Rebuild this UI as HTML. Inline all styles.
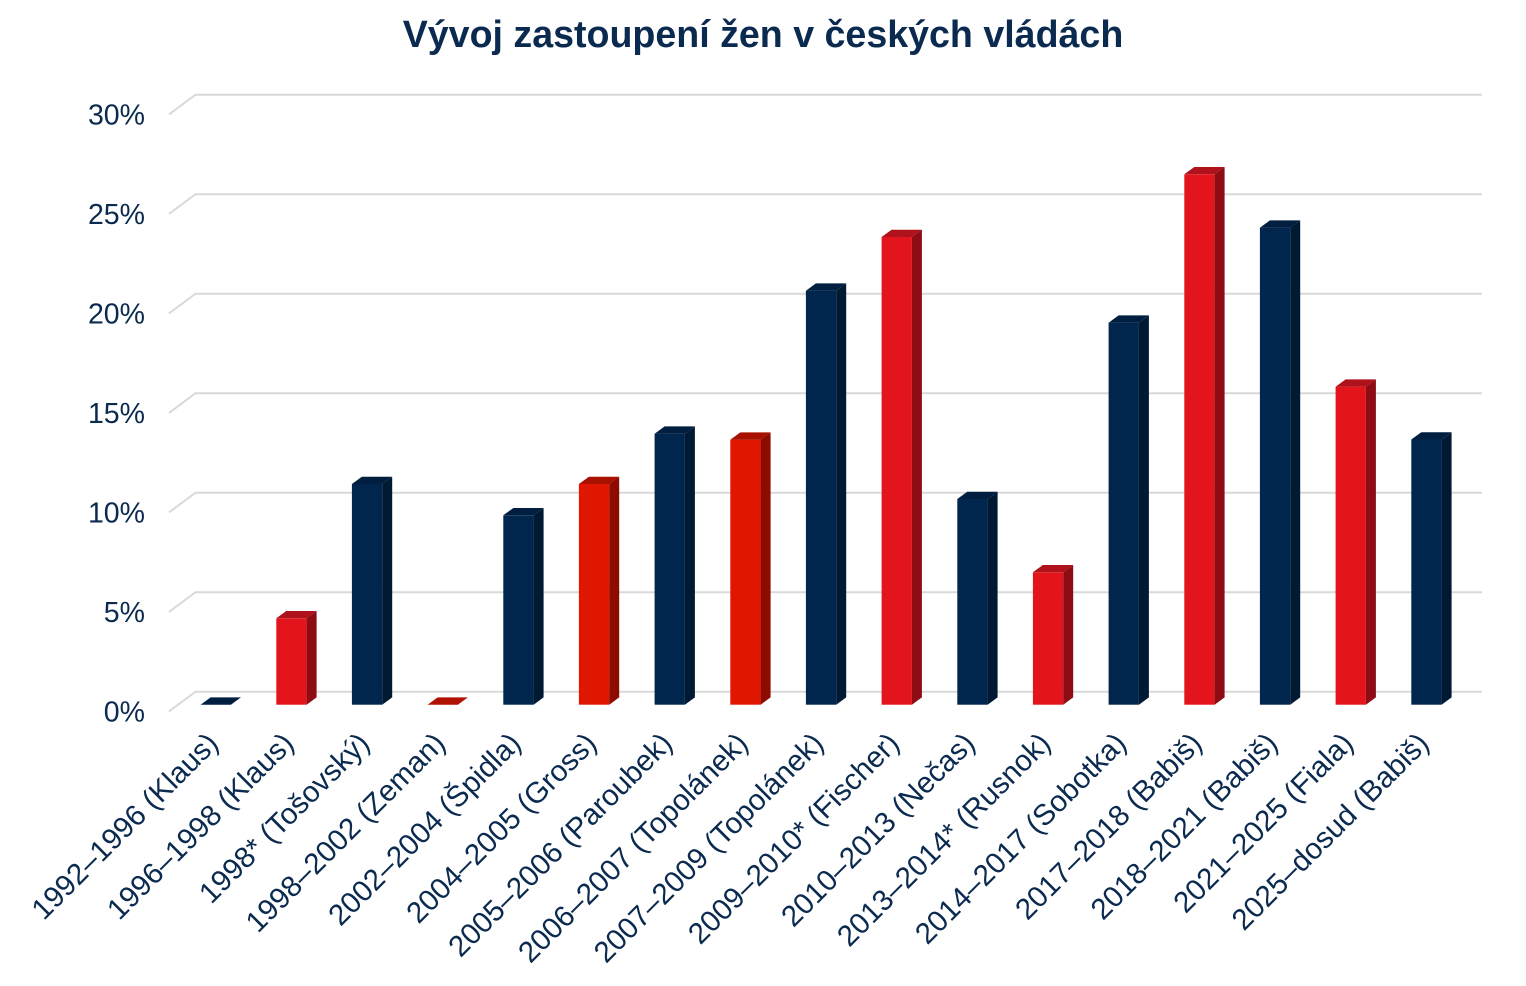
<!DOCTYPE html>
<html>
<head>
<meta charset="utf-8">
<style>
  html,body{margin:0;padding:0;background:#fff;}
  svg{display:block;}
  text{font-family:"Liberation Sans", Arial, sans-serif;}
</style>
</head>
<body>
<svg width="1526" height="986" viewBox="0 0 1526 986" xmlns="http://www.w3.org/2000/svg">
  <rect width="1526" height="986" fill="#ffffff"/>
  <text x="763" y="47" text-anchor="middle" font-size="37.6" font-weight="bold" fill="#0b2a4f">Vývoj zastoupení žen v českých vládách</text>

  <!-- gridlines -->
  <g stroke="#d9d9d9" stroke-width="2" fill="none">
    <polyline points="169,114.4 195.5,94.7 1482,94.7"/>
    <polyline points="169,213.9 195.5,194.2 1482,194.2"/>
    <polyline points="169,313.4 195.5,293.7 1482,293.7"/>
    <polyline points="169,412.9 195.5,393.2 1482,393.2"/>
    <polyline points="169,512.4 195.5,492.7 1482,492.7"/>
    <polyline points="169,611.9 195.5,592.2 1482,592.2"/>
    <polyline points="169,711.4 195.5,691.7 1482,691.7"/>
  </g>

  <!-- y labels -->
  <g font-size="28.5" fill="#0b2a4f" text-anchor="end">
    <text x="145" y="124.5">30%</text>
    <text x="145" y="224">25%</text>
    <text x="145" y="323.5">20%</text>
    <text x="145" y="423">15%</text>
    <text x="145" y="522.5">10%</text>
    <text x="145" y="622">5%</text>
    <text x="145" y="721.5">0%</text>
  </g>

  <!-- bars -->
  <g>
    <polygon points="200.6,704.7 230.9,704.7 240.9,697.4 210.6,697.4" fill="#001e3f"/>
    <rect x="276.3" y="618.3" width="30.3" height="86.4" fill="#e3141b"/>
    <polygon points="276.3,618.3 306.6,618.3 316.6,611 286.3,611" fill="#b0121b"/>
    <polygon points="306.6,618.3 316.6,611 316.6,697.4 306.6,704.7" fill="#8e0c13"/>
    <rect x="351.9" y="484" width="30.3" height="220.7" fill="#00264d"/>
    <polygon points="351.9,484 382.2,484 392.2,476.7 361.9,476.7" fill="#001e3f"/>
    <polygon points="382.2,484 392.2,476.7 392.2,697.4 382.2,704.7" fill="#001a33"/>
    <polygon points="427.6,704.7 457.9,704.7 467.9,697.4 437.6,697.4" fill="#b01100"/>
    <rect x="503.3" y="515.3" width="30.3" height="189.4" fill="#00264d"/>
    <polygon points="503.3,515.3 533.6,515.3 543.6,508 513.3,508" fill="#001e3f"/>
    <polygon points="533.6,515.3 543.6,508 543.6,697.4 533.6,704.7" fill="#001a33"/>
    <rect x="578.9" y="484" width="30.3" height="220.7" fill="#e01600"/>
    <polygon points="578.9,484 609.2,484 619.2,476.7 588.9,476.7" fill="#a81100"/>
    <polygon points="609.2,484 619.2,476.7 619.2,697.4 609.2,704.7" fill="#8e0b00"/>
    <rect x="654.6" y="433.7" width="30.3" height="271" fill="#00264d"/>
    <polygon points="654.6,433.7 684.9,433.7 694.9,426.4 664.6,426.4" fill="#001e3f"/>
    <polygon points="684.9,433.7 694.9,426.4 694.9,697.4 684.9,704.7" fill="#001a33"/>
    <rect x="730.3" y="439.7" width="30.3" height="265" fill="#e01600"/>
    <polygon points="730.3,439.7 760.6,439.7 770.6,432.4 740.3,432.4" fill="#a81100"/>
    <polygon points="760.6,439.7 770.6,432.4 770.6,697.4 760.6,704.7" fill="#8e0b00"/>
    <rect x="805.9" y="290.7" width="30.3" height="414" fill="#00264d"/>
    <polygon points="805.9,290.7 836.2,290.7 846.2,283.4 815.9,283.4" fill="#001e3f"/>
    <polygon points="836.2,290.7 846.2,283.4 846.2,697.4 836.2,704.7" fill="#001a33"/>
    <rect x="881.6" y="237" width="30.3" height="467.7" fill="#e3141b"/>
    <polygon points="881.6,237 911.9,237 921.9,229.7 891.6,229.7" fill="#b0121b"/>
    <polygon points="911.9,237 921.9,229.7 921.9,697.4 911.9,704.7" fill="#8e0c13"/>
    <rect x="957.3" y="499" width="30.3" height="205.7" fill="#00264d"/>
    <polygon points="957.3,499 987.6,499 997.6,491.7 967.3,491.7" fill="#001e3f"/>
    <polygon points="987.6,499 997.6,491.7 997.6,697.4 987.6,704.7" fill="#001a33"/>
    <rect x="1032.9" y="572.3" width="30.3" height="132.4" fill="#e3141b"/>
    <polygon points="1032.9,572.3 1063.2,572.3 1073.2,565 1042.9,565" fill="#b0121b"/>
    <polygon points="1063.2,572.3 1073.2,565 1073.2,697.4 1063.2,704.7" fill="#8e0c13"/>
    <rect x="1108.6" y="322.7" width="30.3" height="382" fill="#00264d"/>
    <polygon points="1108.6,322.7 1138.9,322.7 1148.9,315.4 1118.6,315.4" fill="#001e3f"/>
    <polygon points="1138.9,322.7 1148.9,315.4 1148.9,697.4 1138.9,704.7" fill="#001a33"/>
    <rect x="1184.3" y="174.3" width="30.3" height="530.4" fill="#e3141b"/>
    <polygon points="1184.3,174.3 1214.6,174.3 1224.6,167 1194.3,167" fill="#b0121b"/>
    <polygon points="1214.6,174.3 1224.6,167 1224.6,697.4 1214.6,704.7" fill="#8e0c13"/>
    <rect x="1259.9" y="227.7" width="30.3" height="477" fill="#00264d"/>
    <polygon points="1259.9,227.7 1290.2,227.7 1300.2,220.4 1269.9,220.4" fill="#001e3f"/>
    <polygon points="1290.2,227.7 1300.2,220.4 1300.2,697.4 1290.2,704.7" fill="#001a33"/>
    <rect x="1335.6" y="386.7" width="30.3" height="318" fill="#e3141b"/>
    <polygon points="1335.6,386.7 1365.9,386.7 1375.9,379.4 1345.6,379.4" fill="#b0121b"/>
    <polygon points="1365.9,386.7 1375.9,379.4 1375.9,697.4 1365.9,704.7" fill="#8e0c13"/>
    <rect x="1411.3" y="439.5" width="30.3" height="265.2" fill="#00264d"/>
    <polygon points="1411.3,439.5 1441.6,439.5 1451.6,432.2 1421.3,432.2" fill="#001e3f"/>
    <polygon points="1441.6,439.5 1451.6,432.2 1451.6,697.4 1441.6,704.7" fill="#001a33"/>
  </g>

  <!-- x labels -->
  <g font-size="29.5" fill="#0b2a4f" text-anchor="end">
    <text transform="translate(220,745) rotate(-45)">1992–1996 (Klaus)</text>
    <text transform="translate(295.5,745) rotate(-45)">1996–1998 (Klaus)</text>
    <text transform="translate(371.2,745) rotate(-45)">1998* (Tošovský)</text>
    <text transform="translate(446.9,745) rotate(-45)">1998–2002 (Zeman)</text>
    <text transform="translate(522.6,745) rotate(-45)">2002–2004 (Špidla)</text>
    <text transform="translate(598.2,745) rotate(-45)">2004–2005 (Gross)</text>
    <text transform="translate(673.9,745) rotate(-45)">2005–2006 (Paroubek)</text>
    <text transform="translate(749.6,745) rotate(-45)">2006–2007 (Topolánek)</text>
    <text transform="translate(825.2,745) rotate(-45)">2007–2009 (Topolánek)</text>
    <text transform="translate(900.9,745) rotate(-45)">2009–2010* (Fischer)</text>
    <text transform="translate(976.6,745) rotate(-45)">2010–2013 (Nečas)</text>
    <text transform="translate(1052.2,745) rotate(-45)">2013–2014* (Rusnok)</text>
    <text transform="translate(1127.9,745) rotate(-45)">2014–2017 (Sobotka)</text>
    <text transform="translate(1203.6,745) rotate(-45)">2017–2018 (Babiš)</text>
    <text transform="translate(1279.2,745) rotate(-45)">2018–2021 (Babiš)</text>
    <text transform="translate(1354.9,745) rotate(-45)">2021–2025 (Fiala)</text>
    <text transform="translate(1430.6,745) rotate(-45)">2025–dosud (Babiš)</text>
  </g>
</svg>
</body>
</html>
